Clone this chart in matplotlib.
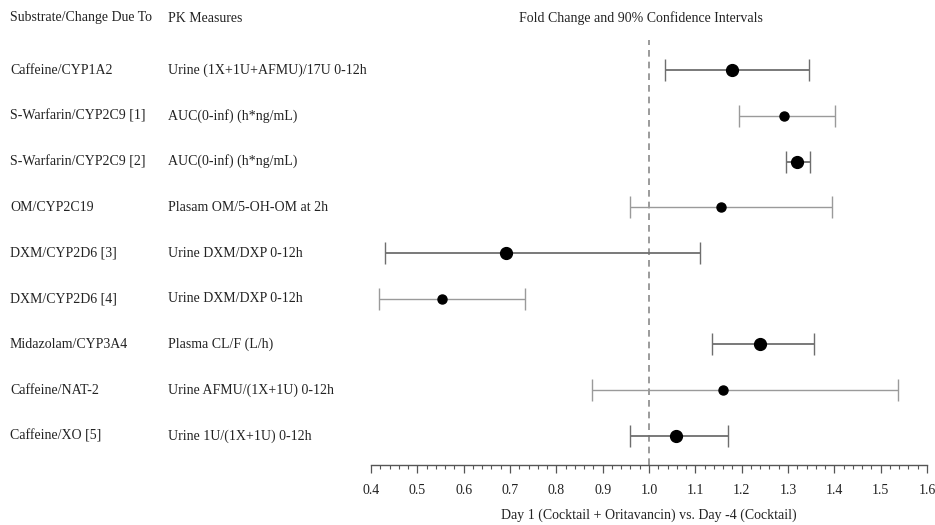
import numpy as np
import matplotlib.pyplot as plt
from matplotlib.ticker import MultipleLocator
import matplotlib.transforms as mtransforms

plt.rcParams['font.family'] = ['Liberation Serif', 'DejaVu Serif']

# rows, top to bottom
substrates = ["Caffeine/CYP1A2", "S-Warfarin/CYP2C9 [1]", "S-Warfarin/CYP2C9 [2]",
              "OM/CYP2C19", "DXM/CYP2D6 [3]", "DXM/CYP2D6 [4]",
              "Midazolam/CYP3A4", "Caffeine/NAT-2", "Caffeine/XO [5]"]
measures = ["Urine (1X+1U+AFMU)/17U 0-12h", "AUC(0-inf) (h*ng/mL)", "AUC(0-inf) (h*ng/mL)",
            "Plasam OM/5-OH-OM at 2h", "Urine DXM/DXP 0-12h", "Urine DXM/DXP 0-12h",
            "Plasma CL/F (L/h)", "Urine AFMU/(1X+1U) 0-12h", "Urine 1U/(1X+1U) 0-12h"]
fold = [1.179, 1.291, 1.320, 1.156, 0.691, 0.553, 1.239, 1.159, 1.059]
ci_low = [1.035, 1.195, 1.295, 0.959, 0.431, 0.418, 1.136, 0.876, 0.958]
ci_high = [1.345, 1.401, 1.347, 1.395, 1.111, 0.732, 1.356, 1.538, 1.171]

fig = plt.figure(figsize=(9.35, 5.25), dpi=100)
ax = fig.add_axes([0.3968, 0.1143, 0.5946, 0.8095])

fs = 10
for i in range(len(fold)):
    big = (i % 2 == 0)
    lc = '#6e6e6e' if big else '#9a9a9a'
    lw = 1.3 if big else 1.0
    ms = 8.5 if big else 6.5
    ax.errorbar(fold[i], i, xerr=[[fold[i] - ci_low[i]], [ci_high[i] - fold[i]]],
                fmt='o', color='black', ms=ms, ecolor=lc, elinewidth=lw,
                capsize=8, capthick=1.0)

ax.axvline(1.0, color='#8a8a8a', ls=(0, (4, 3)), lw=1.2, zorder=0)

ax.set_xlim(0.4, 1.6)
ax.set_ylim(8.634, -0.656)
ax.xaxis.set_major_locator(MultipleLocator(0.1))
ax.xaxis.set_minor_locator(MultipleLocator(0.02))
ax.xaxis.set_major_formatter(plt.FuncFormatter(lambda v, p: f"{v:.1f}"))
ax.tick_params(axis='x', which='major', length=6, width=0.9, color='#555555',
               labelsize=fs, pad=8, labelcolor='#222222')
ax.tick_params(axis='x', which='minor', length=3, width=0.8, color='#555555')
ax.set_yticks([])
for s in ['left', 'right', 'top']:
    ax.spines[s].set_visible(False)
ax.spines['bottom'].set_color('#555555')
ax.spines['bottom'].set_linewidth(1.0)
ax.set_xlabel("Day 1 (Cocktail + Oritavancin) vs. Day -4 (Cocktail)",
              fontsize=fs, labelpad=8, color='#222222')

trans = mtransforms.blended_transform_factory(fig.transFigure, ax.transData)
for i in range(len(fold)):
    fig.text(0.0107, i, substrates[i], transform=trans, va='center', ha='left',
             fontsize=fs, color='#222222')
    fig.text(0.18, i, measures[i], transform=trans, va='center', ha='left',
             fontsize=fs, color='#222222')

fig.text(0.0107, 1 - 18 / 525, "Substrate/Change Due To", va='center', ha='left',
         fontsize=fs, color='#222222')
fig.text(0.18, 1 - 18 / 525, "PK Measures", va='center', ha='left',
         fontsize=fs, color='#222222')
fig.text(0.685, 1 - 18 / 525, "Fold Change and 90% Confidence Intervals",
         va='center', ha='center', fontsize=fs, color='#222222')

fig.savefig("out.png", dpi=100)
